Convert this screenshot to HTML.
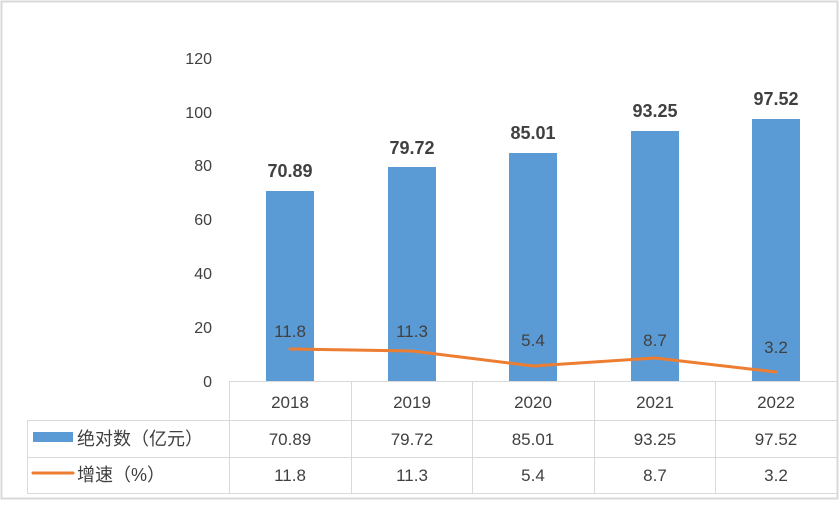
<!DOCTYPE html>
<html><head><meta charset="utf-8"><style>
body{margin:0;background:#fff}
svg text{font-family:"Liberation Sans","Noto Sans CJK SC",sans-serif;fill:#404040}
</style></head><body>
<svg width="839" height="502" xmlns="http://www.w3.org/2000/svg">
<rect x="1.5" y="1.5" width="836" height="497" fill="#fff" stroke="#d9d9d9" stroke-width="2"/>
<g font-size="16" text-anchor="end">
<text x="212" y="387">0</text><text x="212" y="333">20</text><text x="212" y="279">40</text>
<text x="212" y="225">60</text><text x="212" y="171">80</text><text x="212" y="118">100</text><text x="212" y="64">120</text>
</g>
<g fill="#5b9bd5">
<rect x="266" y="191" width="48" height="190"/>
<rect x="388" y="167" width="48" height="214"/>
<rect x="509" y="153" width="48" height="228"/>
<rect x="631" y="131" width="48" height="250"/>
<rect x="752" y="119" width="48" height="262"/>
</g>
<polyline points="290,349 412,351 533,366 655,358 776,372" fill="none" stroke="#ed7d31" stroke-width="3" stroke-linejoin="round" stroke-linecap="round"/>
<g font-size="18" font-weight="bold" text-anchor="middle">
<text x="290" y="177">70.89</text><text x="412" y="154">79.72</text><text x="533" y="139">85.01</text>
<text x="655" y="117">93.25</text><text x="776" y="105">97.52</text>
</g>
<g font-size="17" text-anchor="middle">
<text x="290" y="337">11.8</text><text x="412" y="337">11.3</text><text x="533" y="346">5.4</text>
<text x="655" y="346">8.7</text><text x="776" y="353">3.2</text>
</g>
<g stroke="#d9d9d9" stroke-width="1" fill="none">
<line x1="229.5" y1="381.5" x2="837" y2="381.5"/>
<line x1="27" y1="420.5" x2="837" y2="420.5"/>
<line x1="27" y1="457.5" x2="837" y2="457.5"/>
<line x1="27" y1="493.5" x2="837" y2="493.5"/>
<line x1="27.5" y1="420" x2="27.5" y2="494"/>
<line x1="229.5" y1="381" x2="229.5" y2="494"/>
<line x1="351.5" y1="381" x2="351.5" y2="494"/>
<line x1="472.5" y1="381" x2="472.5" y2="494"/>
<line x1="594.5" y1="381" x2="594.5" y2="494"/>
<line x1="715.5" y1="381" x2="715.5" y2="494"/>
</g>
<g font-size="17" text-anchor="middle">
<text x="290" y="408">2018</text><text x="412" y="408">2019</text><text x="533" y="408">2020</text><text x="655" y="408">2021</text><text x="776" y="408">2022</text>
<text x="290" y="445">70.89</text><text x="412" y="445">79.72</text><text x="533" y="445">85.01</text><text x="655" y="445">93.25</text><text x="776" y="445">97.52</text>
<text x="290" y="481">11.8</text><text x="412" y="481">11.3</text><text x="533" y="481">5.4</text><text x="655" y="481">8.7</text><text x="776" y="481">3.2</text>
</g>
<rect x="33" y="432" width="40" height="10" fill="#5b9bd5"/>
<line x1="33" y1="473" x2="73" y2="473" stroke="#ed7d31" stroke-width="3" stroke-linecap="round"/>
<text x="77" y="445" font-size="18">绝对数（亿元）</text>
<text x="77" y="481" font-size="18">增速（%）</text>
</svg>
</body></html>
